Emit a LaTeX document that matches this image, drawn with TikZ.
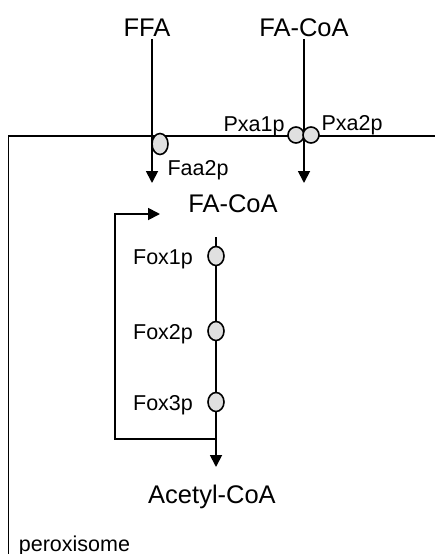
\documentclass[tikz,border=0pt]{standalone}
\usepackage{fontspec}
\setmainfont{Liberation Sans}
\usetikzlibrary{arrows.meta,shapes.geometric}
\tikzset{%
  arrow/.style={-{Triangle[length=12pt,width=12pt]}, line width=1.8pt},
  protein/.style={draw,ellipse,fill=black!12,line width=1.6pt,inner sep=0pt}%
}

\begin{document}
\begin{tikzpicture}[
    x=1pt, y=-1pt,
    line width=1.8pt,
    big/.style={
        inner sep=2pt,
        anchor=base,
        font=\fontsize{25.5}{30}\selectfont
    },
    small/.style={
        inner sep=2pt,
        anchor=base,
        font=\fontsize{21.5}{26}\selectfont
    },
    fox/.style={
        protein,
        minimum width=16pt,
        minimum height=19pt
    },
    pxa/.style={
        protein,
        circle,
        minimum size=16pt
    }
]
\useasboundingbox (0,0) rectangle (435,554);

% peroxisome membrane
\coordinate (memCorner) at (8.5,136);
\draw (8.5,554) -- (memCorner) -- (435,136);
\node[small, anchor=base west, inner sep=0pt] (perox) at (18,551) {peroxisome};

\node[big] (ffa) at (147,36) {FFA};
\node[big] (facoaOut) at (304,36) {FA-CoA};
\node[big] (facoa) at (233,212) {FA-CoA};
\node[big] (acetyl) at (212,503) {Acetyl-CoA};

\coordinate (ffaEnd) at (152,183);
\coordinate (facoaEnd) at (304,183);
\draw[arrow] (ffa.south -| ffaEnd) -- (ffaEnd);
\draw[arrow] (facoaOut.south) -- (facoaEnd);

% transporters in the membrane
\node[protein, minimum width=16pt, minimum height=21pt] (faa) at (160,144) {};
\node[small] (faaLab) at (198,175) {Faa2p};
\node[pxa] (pxa1) at (296,135) {};
\node[pxa] (pxa2) at (311,135) {};
\node[small] (pxa1Lab) at (254,131) {Pxa1p};
\node[small] (pxa2Lab) at (352,130) {Pxa2p};

% beta-oxidation cycle
\coordinate (chainTop) at (216,237);
\node[fox] (fox1) at (216,256) {};
\node[fox] (fox2) at (216,331) {};
\node[fox] (fox3) at (216,402) {};
\node[small] (fox1Lab) at (163,264) {Fox1p};
\node[small] (fox2Lab) at (163,339) {Fox2p};
\node[small] (fox3Lab) at (163,410) {Fox3p};

\coordinate (loopStart) at (216,439);
\coordinate (loopCorner) at (115,214);
\coordinate (loopEnd) at (160,214);
\coordinate (acetylEnd) at (216,467);

\draw (chainTop) -- (fox1) -- (fox2) -- (fox3) -- (loopStart);
\draw[arrow] (loopStart) -- (acetylEnd);
\draw[arrow] (loopStart) -| (loopCorner) -- (loopEnd);

\end{tikzpicture}
\end{document}
